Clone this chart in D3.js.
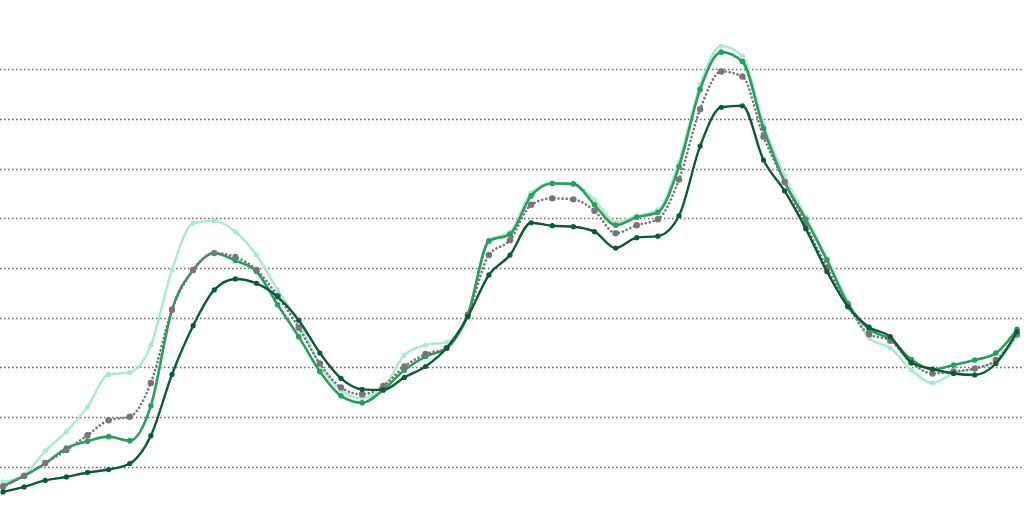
<!DOCTYPE html>
<html><head><meta charset="utf-8">
<script src="https://cdn.jsdelivr.net/npm/d3@7"></script>
<style>html,body{margin:0;padding:0;background:#fff;}svg{display:block;}</style>
</head><body>
<svg id="chart" width="1024" height="507"></svg>
<script>
// 49 periods (index positions)
const periods = d3.range(49);
const gridValues = [10,20,30,40,50,60,70,80,90];

const seriesLight = [7.0,8.4,13.2,17.1,22.1,28.6,29.0,34.5,49.6,59.0,59.5,57.3,52.6,45.6,39.1,30.5,25.5,23.9,25.8,32.5,34.5,35.1,40.3,55.6,57.2,65.1,67.1,66.9,63.7,59.2,60.5,61.7,71.3,86.8,94.6,92.6,78.9,68.5,60.3,52.0,43.2,35.9,33.9,29.5,26.9,28.8,29.8,31.2,36.3];
const seriesMedium = [6.2,8.2,10.7,13.8,15.2,16.1,15.3,22.3,41.6,49.6,53.0,51.5,49.3,42.6,36.2,29.2,24.3,22.9,25.5,29.5,32.2,33.9,40.6,55.4,56.8,64.5,67.0,66.9,62.7,58.6,60.2,61.2,70.4,85.9,93.4,91.5,78.1,67.3,59.8,51.6,42.8,37.7,35.7,31.6,29.6,30.5,31.5,32.9,37.7];
const seriesGray = [6.0,8.2,10.8,13.4,16.4,19.4,20.1,26.9,41.6,49.6,53.0,52.2,49.6,44.4,38.0,30.8,26.0,24.6,26.3,30.2,32.7,33.9,40.6,52.6,55.6,62.7,64.0,63.8,61.5,57.0,58.6,59.8,67.8,81.9,89.5,88.5,76.4,67.3,58.6,50.1,42.4,36.7,35.4,31.0,28.8,29.2,29.8,31.5,36.7];
const seriesDark = [5.0,6.0,7.3,8.0,8.9,9.5,10.7,16.3,28.6,38.4,45.6,47.8,46.9,44.2,39.5,32.9,27.8,25.6,25.5,28.0,30.2,33.9,40.2,48.6,52.6,59.1,58.5,58.3,57.3,54.0,56.1,56.4,60.5,74.5,82.3,82.6,71.7,65.5,57.9,49.3,42.2,38.1,36.2,31.0,29.7,28.8,28.5,30.8,37.2];

const svg = d3.select("#chart");
const x = d3.scaleLinear().domain([0, 48]).range([3, 1017]);
const y = d3.scaleLinear().domain([0, 100]).range([516.75, 19.25]);

// gridlines
svg.append("g").selectAll("line").data(gridValues).join("line")
  .attr("x1", 0).attr("x2", 1024)
  .attr("y1", d => Math.round(y(d)) + 0.5).attr("y2", d => Math.round(y(d)) + 0.5)
  .attr("stroke", "#666").attr("stroke-width", 1.3)
  .attr("stroke-dasharray", "1.5,2.5");

const line = d3.line().x((d, i) => x(i)).y(d => y(d)).curve(d3.curveMonotoneX);

const series = [
  {data: seriesLight, color: "#ade8d4", width: 2.5, dash: null, r: 2.6},
  {data: seriesMedium, color: "#2a9d5f", width: 2.6, dash: null, r: 2.8},
  {data: seriesGray, color: "#767676", width: 2.6, dash: "0.1,4", r: 3.2},
  {data: seriesDark, color: "#0d5a38", width: 2.4, dash: null, r: 2.6}
];

series.forEach(s => {
  const g = svg.append("g");
  g.append("path").datum(s.data)
    .attr("d", line).attr("fill", "none")
    .attr("stroke", s.color).attr("stroke-width", s.width)
    .attr("stroke-linecap", "round")
    .attr("stroke-dasharray", s.dash);
  g.selectAll("circle").data(s.data).join("circle")
    .attr("cx", (d, i) => x(i)).attr("cy", d => y(d))
    .attr("r", s.r).attr("fill", s.color);
});
</script>
</body></html>
